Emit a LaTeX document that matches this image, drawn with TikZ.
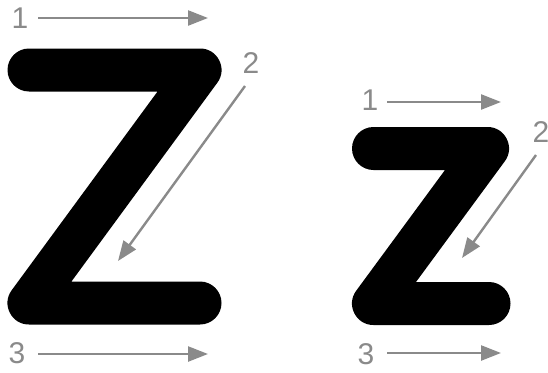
\documentclass[tikz,border=0pt]{standalone}
\usepackage{fontspec}
\setmainfont{Liberation Sans}
\usetikzlibrary{arrows.meta}
\definecolor{ZGray}{HTML}{8A8A8A}
\tikzset{
  zstroke/.style={line width=43pt,line cap=round,line join=round},
  guide/.style={ZGray,line width=2.4pt,-{Triangle[length=20pt,width=15pt]}},
  num/.style={ZGray,font=\fontsize{30}{30}\selectfont,inner sep=0pt}
}
\begin{document}
\begin{tikzpicture}[x=1pt,y=-1pt]
\path[use as bounding box] (0,0) rectangle (548,372);
% capital Z
\draw[zstroke] (29,70) -- (200,70) -- (29,303) -- (200,303);
\node[num] (bigone) at (20,18) {1};
\node[num] (bigtwo) at (251,63) {2};
\node[num] (bigthree) at (17,353) {3};
\coordinate (bigAs) at (38,18);
\coordinate (bigAe) at (208,18);
\coordinate (bigBs) at (245,86);
\coordinate (bigBe) at (118,261);
\coordinate (bigCs) at (38,354);
\coordinate (bigCe) at (208,354);
\draw[guide] (bigAs) -- (bigAe);
\draw[guide] (bigBs) -- (bigBe);
\draw[guide] (bigCs) -- (bigCe);
% small z
\draw[zstroke] (373.5,148.5) -- (487.5,148.5) -- (373.5,303.5) -- (489,303.5);
\node[num] (smallone) at (370,100) {1};
\node[num] (smalltwo) at (541,132) {2};
\node[num] (smallthree) at (366,354) {3};
\coordinate (smallAs) at (387,102);
\coordinate (smallAe) at (501,102);
\coordinate (smallBs) at (536,155);
\coordinate (smallBe) at (462,258);
\coordinate (smallCs) at (387,353);
\coordinate (smallCe) at (501,353);
\draw[guide] (smallAs) -- (smallAe);
\draw[guide] (smallBs) -- (smallBe);
\draw[guide] (smallCs) -- (smallCe);
\end{tikzpicture}
\end{document}
